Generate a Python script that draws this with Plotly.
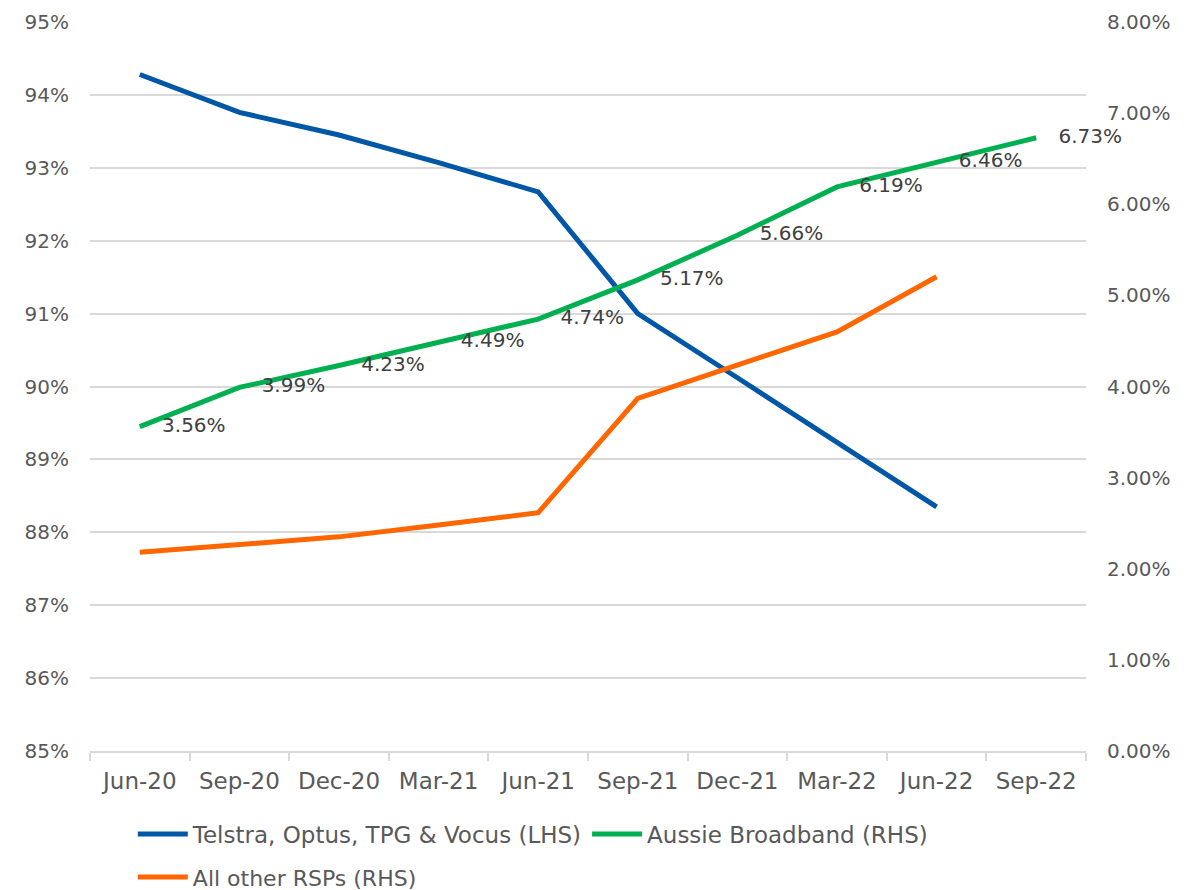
import plotly.graph_objects as go

quarters = ["Jun-20", "Sep-20", "Dec-20", "Mar-21", "Jun-21", "Sep-21",
            "Dec-21", "Mar-22", "Jun-22", "Sep-22"]

big4 = [94.28, 93.76, 93.45, 93.07, 92.67, 91.00, 90.12, 89.24, 88.35]
aussie = [3.56, 3.99, 4.23, 4.49, 4.74, 5.17, 5.66, 6.19, 6.46, 6.73]
others = [2.18, 2.27, 2.35, 2.48, 2.615, 3.87, 4.24, 4.60, 5.205]

aussie_labels = [f"{v:.2f}%" for v in aussie]

FONT = "DejaVu Sans"
GREY = "#595959"
GRID = "#d9d9d9"
NUM_SIZE = 20
TXT_SIZE = 23

fig = go.Figure()

fig.add_trace(go.Scatter(
    x=quarters[:len(big4)], y=big4, mode="lines",
    name="Telstra, Optus, TPG & Vocus (LHS)",
    line=dict(color="#0057a6", width=5),
    yaxis="y", legend="legend",
))
fig.add_trace(go.Scatter(
    x=quarters, y=aussie, mode="lines+markers+text",
    name="Aussie Broadband (RHS)",
    line=dict(color="#00b050", width=5),
    marker=dict(size=34, color="rgba(0,0,0,0)"),
    text=aussie_labels, textposition="middle right",
    textfont=dict(family=FONT, size=NUM_SIZE, color="#404040"),
    cliponaxis=False,
    yaxis="y2", legend="legend",
))
fig.add_trace(go.Scatter(
    x=quarters[:len(others)], y=others, mode="lines",
    name="All other RSPs (RHS)",
    line=dict(color="#ff6600", width=5),
    yaxis="y2", legend="legend2",
))

fig.update_layout(
    width=1187, height=882,
    paper_bgcolor="white", plot_bgcolor="white",
    margin=dict(l=82, r=109, t=14, b=139, autoexpand=False),
    font=dict(family=FONT, size=NUM_SIZE, color=GREY),
    showlegend=True,
    xaxis=dict(
        type="category", categoryorder="array", categoryarray=quarters,
        range=[-0.5, 9.5], showgrid=False, showline=True,
        linecolor=GRID, linewidth=2, ticks="outside", tickson="boundaries",
        ticklen=8, tickcolor=GRID, tickwidth=2, ticklabelstandoff=8,
        tickfont=dict(family=FONT, size=TXT_SIZE, color=GREY),
    ),
    yaxis=dict(
        range=[85, 95], dtick=1, ticksuffix="%", showgrid=True,
        gridcolor=GRID, gridwidth=2, zeroline=False, showline=False,
        ticklabelstandoff=20,
        tickfont=dict(family=FONT, size=NUM_SIZE, color=GREY),
    ),
    yaxis2=dict(
        range=[0, 8], dtick=1, tickformat=".2f", ticksuffix="%",
        overlaying="y", side="right", showgrid=False, zeroline=False,
        showline=False, ticklabelstandoff=20,
        tickfont=dict(family=FONT, size=NUM_SIZE, color=GREY),
    ),
    legend=dict(
        orientation="h", x=0.043, xanchor="left", y=-0.114, yanchor="middle",
        itemwidth=50,
        font=dict(family=FONT, size=TXT_SIZE, color=GREY), bgcolor="rgba(0,0,0,0)",
    ),
    legend2=dict(
        orientation="h", x=0.043, xanchor="left", y=-0.173, yanchor="middle",
        itemwidth=50,
        font=dict(family=FONT, size=22, color=GREY), bgcolor="rgba(0,0,0,0)",
    ),
)

fig.write_html("out.html")
